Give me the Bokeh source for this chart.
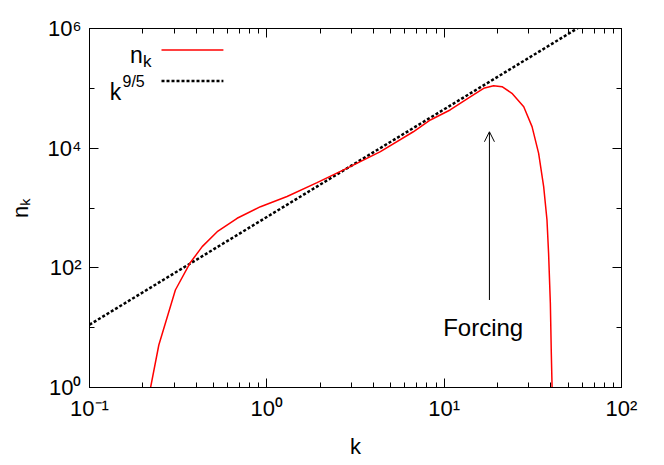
from bokeh.plotting import figure
from bokeh.models import FixedTicker, LogAxis, Label, Arrow, OpenHead, Range1d
from bokeh.embed import file_html
from bokeh.resources import INLINE

# ---- data ----
k_nk = [0.221, 0.246, 0.305, 0.368, 0.432, 0.525, 0.680, 0.921, 1.30, 1.92,
        2.84, 4.37, 6.70, 8.36, 10.8, 14.1, 16.7, 19.0, 21.2, 24.1,
        28.1, 31.3, 34.1, 36.4, 38.0, 38.8, 39.7, 40.2, 40.6]
n_nk = [1.0, 5.13, 42.6, 119, 226, 402, 673, 1052, 1560, 2650,
        4640, 8730, 18800, 29600, 43500, 72600, 100200, 110700, 106600, 82600,
        49300, 22900, 8200, 2270, 631, 175, 25.5, 3.7, 1.0]

k_fit = [0.1, 100]
n_fit = [11.2, 2.82e6]

x_ticks = [0.1, 1, 10, 100]
x_tick_labels = ["10⁻¹", "10⁰", "10¹", "10²"]
x_minor = [m * d for d in (0.1, 1, 10) for m in range(2, 10)]
y_ticks = [1, 1e2, 1e4, 1e6]
y_tick_labels = ["10⁰", "10²", "10⁴", "10⁶"]
y_minor = [10, 1e3, 1e5]

forcing_k = 18.0
forcing_from = 29.0
forcing_to = 18800
forcing_text = "Forcing"

FONT = "Liberation Sans"

p = figure(x_axis_type="log", y_axis_type="log",
           x_range=Range1d(0.1, 100), y_range=Range1d(1, 1e6),
           frame_width=532, frame_height=359,
           min_border_left=89, min_border_right=35,
           min_border_top=28, min_border_bottom=70,
           output_backend="svg", toolbar_location=None,
           background_fill_color="white", border_fill_color="white")
p.xgrid.visible = False
p.ygrid.visible = False
p.outline_line_color = "black"
p.outline_line_width = 1

xt = FixedTicker(ticks=x_ticks, minor_ticks=x_minor)
yt = FixedTicker(ticks=y_ticks, minor_ticks=y_minor)

def style(ax, ticker, ticks, labels=None):
    ax.ticker = ticker
    ax.axis_line_color = "black"
    ax.major_tick_line_color = "black"
    ax.minor_tick_line_color = "black"
    ax.major_tick_in = 9
    ax.major_tick_out = 0
    ax.minor_tick_in = 5
    ax.minor_tick_out = 0
    if labels is None:
        ax.major_label_overrides = {v: "" for v in ticks}
        ax.major_label_text_font_size = "2px"
        ax.major_label_standoff = 0
    else:
        ax.major_label_overrides = {v: s for v, s in zip(ticks, labels)}
        ax.major_label_text_font = FONT
        ax.major_label_text_font_size = "22px"
        ax.major_label_text_color = "black"
        ax.major_label_standoff = 8
    ax.axis_label_text_font = FONT
    ax.axis_label_text_font_style = "normal"
    ax.axis_label_text_font_size = "22px"
    ax.axis_label_text_color = "black"

style(p.xaxis[0], xt, x_ticks, x_tick_labels)
style(p.yaxis[0], yt, y_ticks, y_tick_labels)
p.xaxis[0].axis_label = "k"
p.yaxis[0].axis_label = "nₖ"
p.xaxis[0].axis_label_standoff = 10
p.yaxis[0].axis_label_standoff = 12

top = LogAxis()
style(top, xt, x_ticks)
p.add_layout(top, "above")
right = LogAxis()
style(right, yt, y_ticks)
p.add_layout(right, "right")

# data
p.line(k_fit, n_fit, line_color="black", line_width=2.5, line_dash="3 2")
p.line(k_nk, n_nk, line_color="#ff0000", line_width=1.5)

# legend (gnuplot style: label left, sample right)
p.segment(x0=[0.2547], y0=[4.38e5], x1=[0.569], y1=[4.38e5],
          line_color="#ff0000", line_width=1.5)
p.segment(x0=[0.2547], y0=[1.32e5], x1=[0.569], y1=[1.32e5],
          line_color="black", line_width=2.5, line_dash="3 2")
p.add_layout(Label(x=0.2, y=3.6e5, text="n", text_align="right",
                   text_baseline="alphabetic", text_font=FONT,
                   text_font_size="23px", text_color="black"))
p.add_layout(Label(x=0.2, y=2.76e5, text="k", text_align="left",
                   text_baseline="alphabetic", text_font=FONT,
                   text_font_size="17px", text_color="black"))
p.add_layout(Label(x=0.151, y=8.7e4, text="k", text_align="right",
                   text_baseline="alphabetic", text_font=FONT,
                   text_font_size="23px", text_color="black"))
p.add_layout(Label(x=0.1535, y=1.28e5, text="9/5", text_align="left",
                   text_baseline="alphabetic", text_font=FONT,
                   text_font_size="16px", text_color="black"))

# forcing annotation
p.add_layout(Arrow(end=OpenHead(size=10, line_width=1, line_color="black"),
                   x_start=forcing_k, y_start=forcing_from,
                   x_end=forcing_k, y_end=forcing_to,
                   line_color="black", line_width=1))
p.add_layout(Label(x=16.6, y=9.9, text=forcing_text, text_align="center",
                   text_baseline="middle", text_font=FONT,
                   text_font_size="24px", text_color="black"))

open("out.html", "w").write(file_html(p, INLINE))
